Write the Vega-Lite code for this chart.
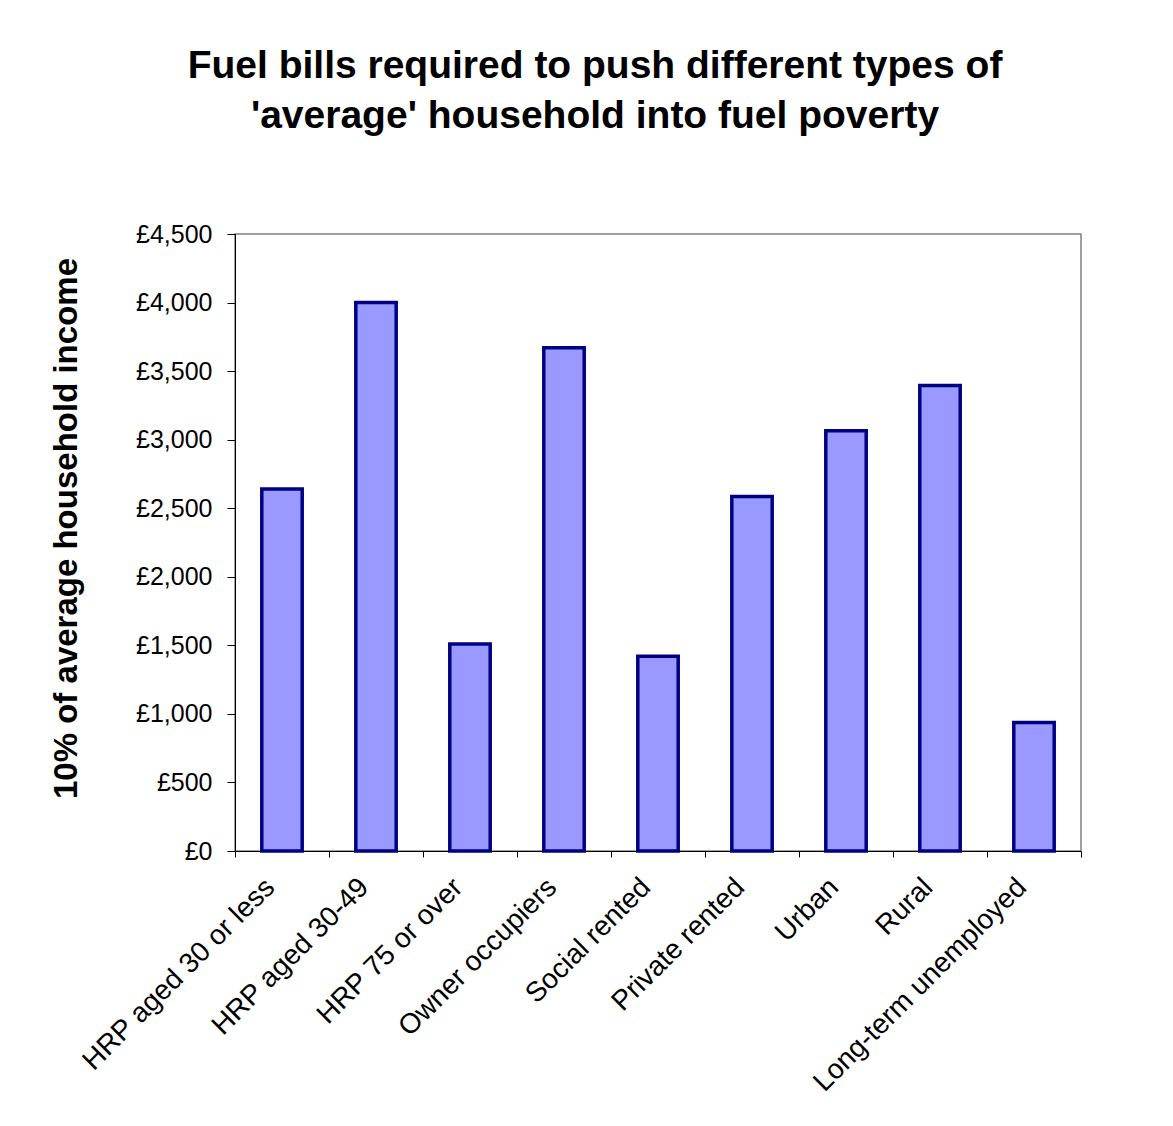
{
  "$schema": "https://vega.github.io/schema/vega-lite/v6.json",
  "autosize": {"type": "none"},
  "width": 846,
  "height": 617,
  "padding": {"left": 235, "top": 234, "right": 92, "bottom": 275},
  "background": "white",
  "title": {
    "text": ["Fuel bills required to push different types of", "'average' household into fuel poverty"],
    "font": "Liberation Sans",
    "fontSize": 39,
    "fontWeight": "bold",
    "color": "black",
    "anchor": "middle",
    "frame": "group",
    "dx": -63,
    "lineHeight": 50,
    "offset": 86
  },
  "data": {
    "values": [
      {"group": "HRP aged 30 or less", "value": 2640},
      {"group": "HRP aged 30-49", "value": 4000},
      {"group": "HRP 75 or over", "value": 1510},
      {"group": "Owner occupiers", "value": 3670},
      {"group": "Social rented", "value": 1420},
      {"group": "Private rented", "value": 2585},
      {"group": "Urban", "value": 3065},
      {"group": "Rural", "value": 3395},
      {"group": "Long-term unemployed", "value": 937}
    ]
  },
  "mark": {"type": "bar", "fill": "#9999FF", "stroke": "#000080", "strokeWidth": 3.5, "width": {"band": 0.43}},
  "encoding": {
    "x": {
      "field": "group",
      "type": "nominal",
      "sort": null,
      "scale": {"paddingInner": 0, "paddingOuter": 0},
      "axis": {
        "title": null,
        "labelAngle": -45,
        "labelFont": "Liberation Sans",
        "labelFontSize": 28,
        "labelColor": "black",
        "labelPadding": 16,
        "labelOffset": -22,
        "labelLimit": 400,
        "tickBand": "extent",
        "tickSize": 6,
        "tickColor": "black",
        "domainColor": "black",
        "grid": false
      }
    },
    "y": {
      "field": "value",
      "type": "quantitative",
      "scale": {"domain": [0, 4500], "nice": false},
      "axis": {
        "title": "10% of average household income",
        "titleFont": "Liberation Sans",
        "titleFontSize": 33,
        "titleFontWeight": "bold",
        "titleColor": "black",
        "titlePadding": 52,
        "titleY": 294,
        "values": [0, 500, 1000, 1500, 2000, 2500, 3000, 3500, 4000, 4500],
        "labelExpr": "'£' + format(datum.value, ',')",
        "labelFont": "Liberation Sans",
        "labelFontSize": 25,
        "labelColor": "black",
        "labelPadding": 15,
        "tickSize": 8,
        "tickColor": "black",
        "domainColor": "black",
        "grid": false
      }
    }
  },
  "config": {
    "view": {"stroke": "#808080", "strokeWidth": 1.5}
  }
}
